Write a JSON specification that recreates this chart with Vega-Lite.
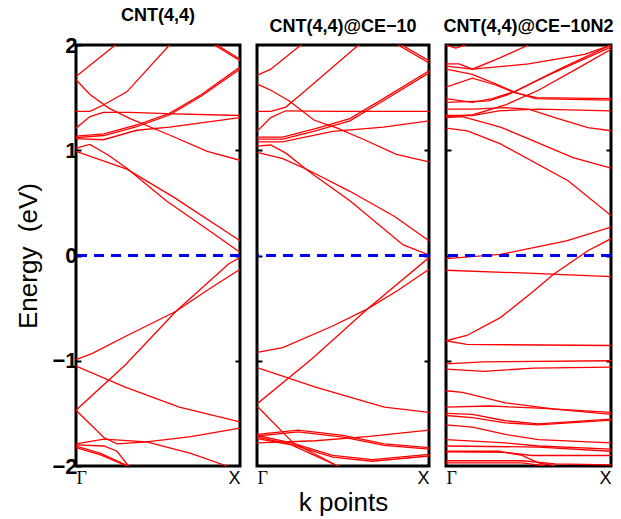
{
  "$schema": "https://vega.github.io/schema/vega-lite/v6.json",
  "background": "white",
  "padding": {"left": 14, "top": 5, "right": 5, "bottom": 1},
  "autosize": {"type": "pad"},
  "bounds": "flush",
  "spacing": 17,
  "config": {
    "view": {"stroke": "black", "strokeWidth": 3},
    "axis": {"grid": false}
  },
  "datasets": {
    "p1": [
      {"b":"1","k":0,"e":1.70},{"b":"1","k":0.12,"e":1.85},{"b":"1","k":0.24,"e":2.0},{"b":"1","k":0.4,"e":2.25},
      {"b":"2","k":0,"e":1.67},{"b":"2","k":0.085,"e":1.53},{"b":"2","k":0.2,"e":1.40},{"b":"2","k":0.33,"e":1.30},{"b":"2","k":0.57,"e":1.145},{"b":"2","k":0.8,"e":0.99},{"b":"2","k":1,"e":0.905},
      {"b":"3","k":0,"e":1.37},{"b":"3","k":0.085,"e":1.37},{"b":"3","k":0.167,"e":1.43},{"b":"3","k":0.31,"e":1.555},{"b":"3","k":0.57,"e":2.0},{"b":"3","k":0.7,"e":2.22},
      {"b":"4","k":0,"e":1.21},{"b":"4","k":0.085,"e":1.32},{"b":"4","k":0.167,"e":1.36},{"b":"4","k":0.33,"e":1.36},{"b":"4","k":0.6,"e":1.345},{"b":"4","k":1,"e":1.33},
      {"b":"5","k":0,"e":1.135},{"b":"5","k":0.17,"e":1.155},{"b":"5","k":0.37,"e":1.24},{"b":"5","k":0.57,"e":1.35},{"b":"5","k":0.76,"e":1.525},{"b":"5","k":1,"e":1.79},
      {"b":"6","k":0,"e":1.12},{"b":"6","k":0.17,"e":1.14},{"b":"6","k":0.37,"e":1.225},{"b":"6","k":0.57,"e":1.335},{"b":"6","k":0.76,"e":1.51},{"b":"6","k":1,"e":1.77},
      {"b":"7","k":0.6,"e":2.25},{"b":"7","k":1,"e":1.865},
      {"b":"8","k":0.6,"e":2.235},{"b":"8","k":1,"e":1.85},
      {"b":"9","k":0,"e":1.11},{"b":"9","k":0.167,"e":1.10},{"b":"9","k":0.37,"e":1.19},{"b":"9","k":0.57,"e":1.22},{"b":"9","k":1,"e":1.31},
      {"b":"10","k":0,"e":1.02},{"b":"10","k":0.085,"e":1.055},{"b":"10","k":0.2,"e":0.95},{"b":"10","k":0.31,"e":0.83},{"b":"10","k":0.55,"e":0.52},{"b":"10","k":0.8,"e":0.25},{"b":"10","k":1,"e":0.03},
      {"b":"11","k":0,"e":0.99},{"b":"11","k":0.31,"e":0.82},{"b":"11","k":0.6,"e":0.55},{"b":"11","k":1,"e":0.14},
      {"b":"12","k":0,"e":-0.99},{"b":"12","k":0.1,"e":-0.93},{"b":"12","k":0.3,"e":-0.77},{"b":"12","k":0.61,"e":-0.53},{"b":"12","k":0.8,"e":-0.33},{"b":"12","k":1,"e":-0.13},
      {"b":"13","k":0,"e":-1.47},{"b":"13","k":0.3,"e":-1.04},{"b":"13","k":0.61,"e":-0.53},{"b":"13","k":0.93,"e":-0.08},{"b":"13","k":1,"e":-0.02},
      {"b":"14","k":0,"e":-1.05},{"b":"14","k":0.3,"e":-1.25},{"b":"14","k":0.63,"e":-1.44},{"b":"14","k":1,"e":-1.58},
      {"b":"15","k":0,"e":-1.47},{"b":"15","k":0.17,"e":-1.73},{"b":"15","k":0.25,"e":-1.79},{"b":"15","k":0.43,"e":-1.77},{"b":"15","k":0.7,"e":-1.72},{"b":"15","k":1,"e":-1.64},
      {"b":"16","k":0,"e":-1.79},{"b":"16","k":0.17,"e":-1.745},{"b":"16","k":0.43,"e":-1.77},{"b":"16","k":0.7,"e":-1.88},{"b":"16","k":0.92,"e":-2.0},{"b":"16","k":1,"e":-2.05},
      {"b":"17","k":0,"e":-1.80},{"b":"17","k":0.17,"e":-1.81},{"b":"17","k":0.25,"e":-1.86},{"b":"17","k":0.32,"e":-2.0},{"b":"17","k":0.4,"e":-2.15},
      {"b":"18","k":0,"e":-1.81},{"b":"18","k":0.15,"e":-1.88},{"b":"18","k":0.32,"e":-2.0},{"b":"18","k":0.4,"e":-2.06},
      {"b":"19","k":0,"e":-1.825},{"b":"19","k":0.15,"e":-1.895},{"b":"19","k":0.31,"e":-2.0},{"b":"19","k":0.4,"e":-2.07}
    ],
    "p2": [
      {"b":"1","k":0,"e":1.71},{"b":"1","k":0.08,"e":1.77},{"b":"1","k":0.255,"e":2.0},{"b":"1","k":0.4,"e":2.2},
      {"b":"2","k":0,"e":1.63},{"b":"2","k":0.08,"e":1.57},{"b":"2","k":0.186,"e":1.47},{"b":"2","k":0.333,"e":1.285},{"b":"2","k":0.46,"e":1.215},{"b":"2","k":0.637,"e":1.09},{"b":"2","k":0.81,"e":0.96},{"b":"2","k":1,"e":0.89},
      {"b":"3","k":0,"e":1.37},{"b":"3","k":0.08,"e":1.37},{"b":"3","k":0.167,"e":1.41},{"b":"3","k":0.255,"e":1.53},{"b":"3","k":0.59,"e":2.0},{"b":"3","k":0.7,"e":2.15},
      {"b":"4","k":0,"e":1.18},{"b":"4","k":0.08,"e":1.31},{"b":"4","k":0.167,"e":1.375},{"b":"4","k":0.46,"e":1.37},{"b":"4","k":1,"e":1.37},
      {"b":"5","k":0,"e":1.125},{"b":"5","k":0.15,"e":1.125},{"b":"5","k":0.34,"e":1.205},{"b":"5","k":0.54,"e":1.30},{"b":"5","k":0.735,"e":1.49},{"b":"5","k":1,"e":1.755},
      {"b":"6","k":0,"e":1.105},{"b":"6","k":0.15,"e":1.105},{"b":"6","k":0.34,"e":1.185},{"b":"6","k":0.54,"e":1.28},{"b":"6","k":0.735,"e":1.47},{"b":"6","k":1,"e":1.735},
      {"b":"7","k":0.6,"e":2.23},{"b":"7","k":1,"e":1.85},
      {"b":"8","k":0.6,"e":2.21},{"b":"8","k":1,"e":1.83},
      {"b":"9","k":0,"e":1.08},{"b":"9","k":0.147,"e":1.08},{"b":"9","k":0.44,"e":1.18},{"b":"9","k":0.735,"e":1.22},{"b":"9","k":1,"e":1.28},
      {"b":"10","k":0,"e":1.04},{"b":"10","k":0.08,"e":1.05},{"b":"10","k":0.17,"e":0.97},{"b":"10","k":0.3,"e":0.80},{"b":"10","k":0.54,"e":0.52},{"b":"10","k":0.85,"e":0.10},{"b":"10","k":1,"e":0.005},
      {"b":"11","k":0,"e":0.98},{"b":"11","k":0.15,"e":0.92},{"b":"11","k":0.3,"e":0.81},{"b":"11","k":0.54,"e":0.61},{"b":"11","k":0.8,"e":0.37},{"b":"11","k":1,"e":0.14},
      {"b":"12","k":0,"e":-0.92},{"b":"12","k":0.15,"e":-0.875},{"b":"12","k":0.44,"e":-0.67},{"b":"12","k":0.64,"e":-0.51},{"b":"12","k":0.82,"e":-0.33},{"b":"12","k":1,"e":-0.13},
      {"b":"13","k":0,"e":-1.41},{"b":"13","k":0.32,"e":-0.98},{"b":"13","k":0.64,"e":-0.51},{"b":"13","k":1,"e":-0.02},
      {"b":"14","k":0,"e":-1.065},{"b":"14","k":0.34,"e":-1.25},{"b":"14","k":0.74,"e":-1.44},{"b":"14","k":1,"e":-1.49},
      {"b":"15","k":0,"e":-1.43},{"b":"15","k":0.21,"e":-1.78},{"b":"15","k":0.47,"e":-2.0},{"b":"15","k":0.6,"e":-2.1},
      {"b":"16","k":0,"e":-1.70},{"b":"16","k":0.24,"e":-1.66},{"b":"16","k":0.5,"e":-1.71},{"b":"16","k":0.74,"e":-1.79},{"b":"16","k":1,"e":-1.825},
      {"b":"17","k":0,"e":-1.715},{"b":"17","k":0.24,"e":-1.675},{"b":"17","k":0.5,"e":-1.725},{"b":"17","k":0.74,"e":-1.805},{"b":"17","k":1,"e":-1.84},
      {"b":"18","k":0,"e":-1.78},{"b":"18","k":0.34,"e":-1.76},{"b":"18","k":0.64,"e":-1.72},{"b":"18","k":1,"e":-1.66},
      {"b":"19","k":0,"e":-1.71},{"b":"19","k":0.2,"e":-1.78},{"b":"19","k":0.44,"e":-1.90},{"b":"19","k":0.67,"e":-1.94},{"b":"19","k":1,"e":-1.89},
      {"b":"20","k":0,"e":-1.725},{"b":"20","k":0.2,"e":-1.795},{"b":"20","k":0.44,"e":-1.915},{"b":"20","k":0.67,"e":-1.955},{"b":"20","k":1,"e":-1.905},
      {"b":"21","k":0,"e":-1.74},{"b":"21","k":0.2,"e":-1.80},{"b":"21","k":0.47,"e":-2.0},{"b":"21","k":0.6,"e":-2.1}
    ],
    "p3": [
      {"b":"a","k":0,"e":2.0},{"b":"a","k":0.06,"e":1.97},{"b":"a","k":0.12,"e":2.0},
      {"b":"b","k":0,"e":1.82},{"b":"b","k":0.08,"e":1.82},{"b":"b","k":0.16,"e":1.77},{"b":"b","k":0.33,"e":1.88},{"b":"b","k":0.5,"e":2.0},
      {"b":"c","k":0,"e":1.80},{"b":"c","k":0.16,"e":1.77},{"b":"c","k":0.5,"e":1.82},{"b":"c","k":0.84,"e":1.91},{"b":"c","k":1,"e":2.0},
      {"b":"d","k":0,"e":1.77},{"b":"d","k":0.16,"e":1.72},{"b":"d","k":0.3,"e":1.63},{"b":"d","k":0.42,"e":1.55},{"b":"d","k":0.54,"e":1.49},{"b":"d","k":1,"e":1.476},
      {"b":"e","k":0,"e":1.60},{"b":"e","k":0.16,"e":1.685},{"b":"e","k":0.3,"e":1.62},{"b":"e","k":0.42,"e":1.545},{"b":"e","k":0.55,"e":1.50},{"b":"e","k":1,"e":1.49},
      {"b":"f","k":0,"e":1.39},{"b":"f","k":0.16,"e":1.39},{"b":"f","k":0.36,"e":1.405},{"b":"f","k":0.5,"e":1.39},{"b":"f","k":0.66,"e":1.31},{"b":"f","k":0.86,"e":1.215},{"b":"f","k":1,"e":1.185},
      {"b":"g","k":0,"e":1.33},{"b":"g","k":0.16,"e":1.33},{"b":"g","k":0.32,"e":1.375},{"b":"g","k":0.56,"e":1.39},{"b":"g","k":1,"e":1.375},
      {"b":"h","k":0,"e":1.32},{"b":"h","k":0.16,"e":1.335},{"b":"h","k":0.36,"e":1.43},{"b":"h","k":0.56,"e":1.57},{"b":"h","k":0.8,"e":1.78},{"b":"h","k":1,"e":1.96},
      {"b":"i","k":0,"e":1.31},{"b":"i","k":0.1,"e":1.32},{"b":"i","k":0.33,"e":1.22},{"b":"i","k":0.53,"e":1.09},{"b":"i","k":0.77,"e":0.93},{"b":"i","k":1,"e":0.83},
      {"b":"j","k":0,"e":1.21},{"b":"j","k":0.13,"e":1.185},{"b":"j","k":0.33,"e":1.06},{"b":"j","k":0.74,"e":0.71},{"b":"j","k":1,"e":0.38},
      {"b":"k1","k":0,"e":1.49},{"b":"k1","k":0.16,"e":1.455},{"b":"k1","k":0.28,"e":1.49},{"b":"k1","k":0.42,"e":1.56},{"b":"k1","k":0.7,"e":1.78},{"b":"k1","k":1,"e":2.0},
      {"b":"k2","k":0,"e":1.455},{"b":"k2","k":0.26,"e":1.47},{"b":"k2","k":0.38,"e":1.53},{"b":"k2","k":0.6,"e":1.70},{"b":"k2","k":1,"e":1.98},
      {"b":"l1","k":0,"e":-0.03},{"b":"l1","k":0.33,"e":0.01},{"b":"l1","k":0.73,"e":0.14},{"b":"l1","k":1,"e":0.27},
      {"b":"l2","k":0,"e":-0.14},{"b":"l2","k":0.53,"e":-0.17},{"b":"l2","k":1,"e":-0.20},
      {"b":"l3","k":0,"e":-0.81},{"b":"l3","k":0.126,"e":-0.76},{"b":"l3","k":0.33,"e":-0.59},{"b":"l3","k":0.53,"e":-0.34},{"b":"l3","k":0.65,"e":-0.18},{"b":"l3","k":0.86,"e":0.045},{"b":"l3","k":1,"e":0.16},
      {"b":"l4","k":0,"e":-0.81},{"b":"l4","k":0.126,"e":-0.845},{"b":"l4","k":1,"e":-0.855},
      {"b":"l5","k":0,"e":-1.03},{"b":"l5","k":0.23,"e":-1.01},{"b":"l5","k":1,"e":-1.0},
      {"b":"l6","k":0,"e":-1.08},{"b":"l6","k":0.23,"e":-1.10},{"b":"l6","k":0.53,"e":-1.07},{"b":"l6","k":1,"e":-1.06},
      {"b":"l7","k":0,"e":-1.285},{"b":"l7","k":0.1,"e":-1.30},{"b":"l7","k":0.36,"e":-1.40},{"b":"l7","k":0.66,"e":-1.46},{"b":"l7","k":1,"e":-1.51},
      {"b":"l8","k":0,"e":-1.44},{"b":"l8","k":0.26,"e":-1.43},{"b":"l8","k":0.56,"e":-1.45},{"b":"l8","k":1,"e":-1.49},
      {"b":"l9","k":0,"e":-1.50},{"b":"l9","k":0.16,"e":-1.51},{"b":"l9","k":0.36,"e":-1.57},{"b":"l9","k":0.56,"e":-1.60},{"b":"l9","k":1,"e":-1.555},
      {"b":"l10","k":0,"e":-1.52},{"b":"l10","k":0.16,"e":-1.54},{"b":"l10","k":0.36,"e":-1.59},{"b":"l10","k":0.56,"e":-1.61},{"b":"l10","k":1,"e":-1.565},
      {"b":"l11","k":0,"e":-1.61},{"b":"l11","k":0.16,"e":-1.63},{"b":"l11","k":0.36,"e":-1.70},{"b":"l11","k":0.56,"e":-1.75},{"b":"l11","k":1,"e":-1.78},
      {"b":"l12","k":0,"e":-1.75},{"b":"l12","k":0.36,"e":-1.78},{"b":"l12","k":0.56,"e":-1.81},{"b":"l12","k":1,"e":-1.84},
      {"b":"l13","k":0,"e":-1.81},{"b":"l13","k":0.56,"e":-1.82},{"b":"l13","k":1,"e":-1.86},
      {"b":"l14","k":0,"e":-1.86},{"b":"l14","k":0.32,"e":-1.86},{"b":"l14","k":0.46,"e":-1.90},{"b":"l14","k":0.56,"e":-1.97},{"b":"l14","k":0.66,"e":-2.0},
      {"b":"l15","k":0,"e":-1.865},{"b":"l15","k":0.36,"e":-1.87},{"b":"l15","k":0.52,"e":-1.90},{"b":"l15","k":1,"e":-1.90},
      {"b":"l16","k":0,"e":-1.95},{"b":"l16","k":0.46,"e":-1.95},{"b":"l16","k":0.66,"e":-1.98},{"b":"l16","k":1,"e":-1.99},
      {"b":"l17","k":0,"e":-1.97},{"b":"l17","k":0.46,"e":-1.97},{"b":"l17","k":0.6,"e":-2.0}
    ],
    "zero": [{"e": 0}]
  },
  "hconcat": [
    {
      "width": 164, "height": 421,
      "title": {"text": "CNT(4,4)", "fontSize": 18, "fontWeight": "bold", "font": "Liberation Sans", "color": "black", "offset": 9},
      "layer": [
        {
          "data": {"name": "p1"},
          "mark": {"type": "line", "color": "#ff0000", "strokeWidth": 1.3, "clip": true},
          "encoding": {
            "x": {"field": "k", "type": "quantitative", "scale": {"domain": [0, 1], "nice": false},
                  "axis": {"values": [0, 1], "labelExpr": "datum.value == 0 ? 'Γ' : 'X'", "labelFlush": true, "ticks": false, "domain": false, "labelFontSize": 18, "labelColor": "black", "labelPadding": 3,
                           "labelFont": {"condition": {"test": "datum.value == 0", "value": "Liberation Serif"}, "value": "Liberation Sans"}, "title": null}},
            "y": {"field": "e", "type": "quantitative", "scale": {"domain": [-2, 2], "nice": false},
                  "axis": {"values": [-2, -1, 0, 1, 2], "labelFontSize": 22, "labelFontWeight": "bold", "labelFont": "Liberation Sans", "labelColor": "black", "labelPadding": 4,
                           "tickSize": -5, "tickWidth": 2, "tickColor": "black", "domain": false,
                           "title": "Energy\u00a0\u00a0(eV)", "titleFontSize": 26, "titleFontWeight": "normal", "titleFont": "Liberation Sans", "titleColor": "black", "titlePadding": 10}},
            "detail": {"field": "b"}
          }
        },
        {
          "data": {"name": "zero"},
          "mark": {"type": "rule", "color": "#0000ff", "strokeDash": [10, 7], "strokeWidth": 3},
          "encoding": {
            "y": {"field": "e", "type": "quantitative",
                  "axis": {"orient": "right", "values": [-1, 0, 1], "labels": false, "tickSize": -5, "tickWidth": 2, "tickColor": "black", "domain": false, "title": null}}
          }
        }
      ],
      "resolve": {"axis": {"y": "independent"}}
    },
    {
      "width": 172, "height": 421,
      "title": {"text": "CNT(4,4)@CE−10", "fontSize": 18, "fontWeight": "bold", "font": "Liberation Sans", "color": "black", "offset": 9},
      "layer": [
        {
          "data": {"name": "p2"},
          "mark": {"type": "line", "color": "#ff0000", "strokeWidth": 1.3, "clip": true},
          "encoding": {
            "x": {"field": "k", "type": "quantitative", "scale": {"domain": [0, 1], "nice": false},
                  "axis": {"values": [0, 1], "labelExpr": "datum.value == 0 ? 'Γ' : 'X'", "labelFlush": true, "ticks": false, "domain": false, "labelFontSize": 18, "labelColor": "black", "labelPadding": 3,
                           "labelFont": {"condition": {"test": "datum.value == 0", "value": "Liberation Serif"}, "value": "Liberation Sans"},
                           "title": "k points", "titleFontSize": 26, "titleFontWeight": "normal", "titleFont": "Liberation Sans", "titleColor": "black", "titlePadding": 2}},
            "y": {"field": "e", "type": "quantitative", "scale": {"domain": [-2, 2], "nice": false},
                  "axis": {"values": [-1, 0, 1], "labels": false, "tickSize": -5, "tickWidth": 2, "tickColor": "black", "domain": false, "title": null}},
            "detail": {"field": "b"}
          }
        },
        {
          "data": {"name": "zero"},
          "mark": {"type": "rule", "color": "#0000ff", "strokeDash": [10, 7], "strokeWidth": 3},
          "encoding": {
            "y": {"field": "e", "type": "quantitative",
                  "axis": {"orient": "right", "values": [-1, 0, 1], "labels": false, "tickSize": -5, "tickWidth": 2, "tickColor": "black", "domain": false, "title": null}}
          }
        }
      ],
      "resolve": {"axis": {"y": "independent"}}
    },
    {
      "width": 165, "height": 421,
      "title": {"text": "CNT(4,4)@CE−10N2", "fontSize": 18, "fontWeight": "bold", "font": "Liberation Sans", "color": "black", "offset": 9},
      "layer": [
        {
          "data": {"name": "p3"},
          "mark": {"type": "line", "color": "#ff0000", "strokeWidth": 1.3, "clip": true},
          "encoding": {
            "x": {"field": "k", "type": "quantitative", "scale": {"domain": [0, 1], "nice": false},
                  "axis": {"values": [0, 1], "labelExpr": "datum.value == 0 ? 'Γ' : 'X'", "labelFlush": true, "ticks": false, "domain": false, "labelFontSize": 18, "labelColor": "black", "labelPadding": 3,
                           "labelFont": {"condition": {"test": "datum.value == 0", "value": "Liberation Serif"}, "value": "Liberation Sans"}, "title": null}},
            "y": {"field": "e", "type": "quantitative", "scale": {"domain": [-2, 2], "nice": false},
                  "axis": {"values": [-1, 0, 1], "labels": false, "tickSize": -5, "tickWidth": 2, "tickColor": "black", "domain": false, "title": null}},
            "detail": {"field": "b"}
          }
        },
        {
          "data": {"name": "zero"},
          "mark": {"type": "rule", "color": "#0000ff", "strokeDash": [10, 7], "strokeWidth": 3},
          "encoding": {
            "y": {"field": "e", "type": "quantitative",
                  "axis": {"orient": "right", "values": [-1, 0, 1], "labels": false, "tickSize": -5, "tickWidth": 2, "tickColor": "black", "domain": false, "title": null}}
          }
        }
      ],
      "resolve": {"axis": {"y": "independent"}}
    }
  ]
}
